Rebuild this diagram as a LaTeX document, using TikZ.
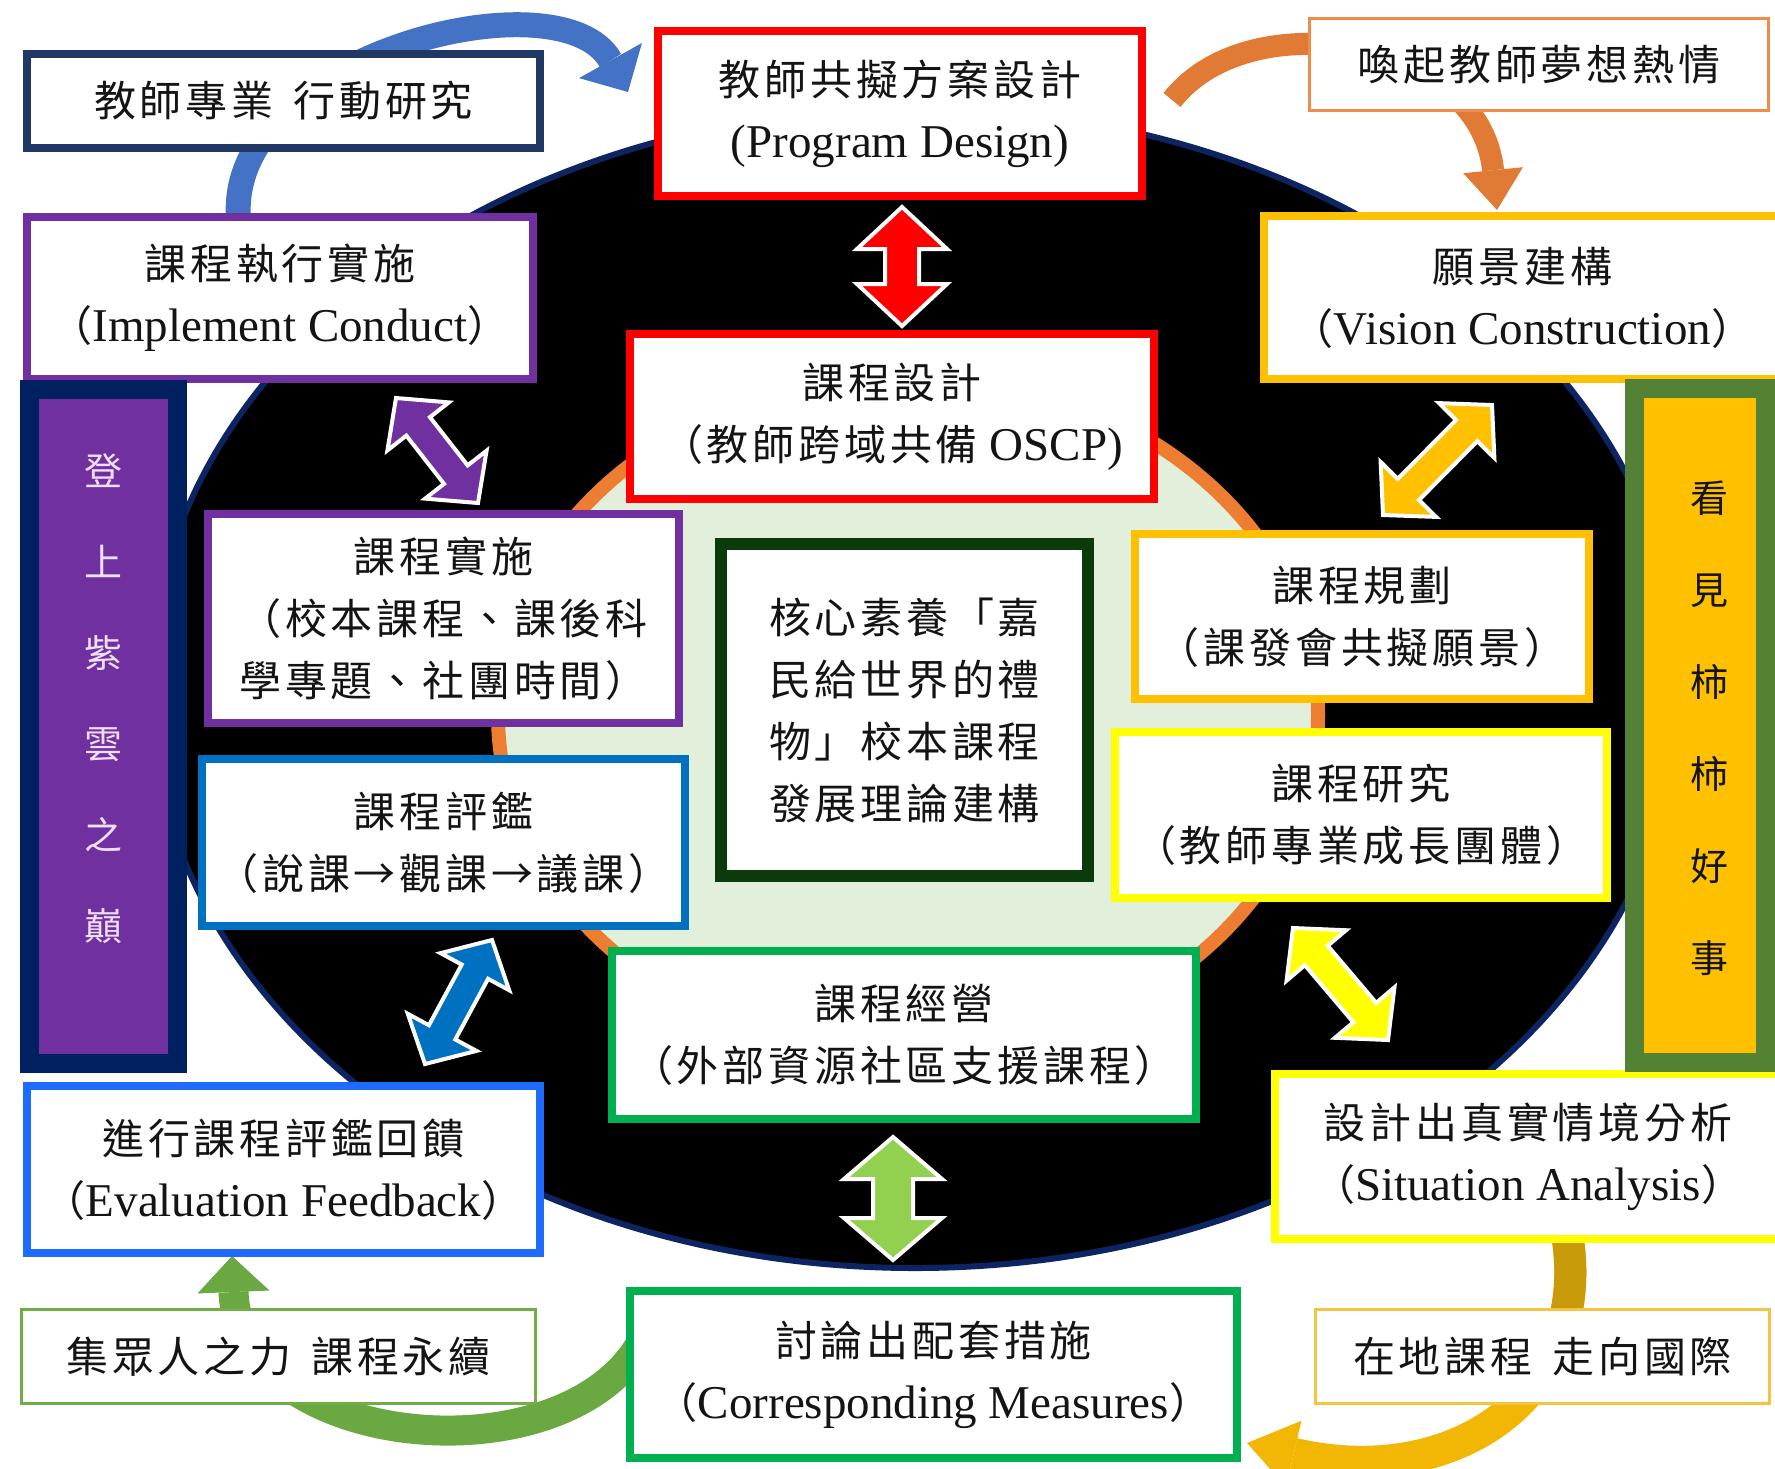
\documentclass[tikz,border=0pt]{standalone}
\usepackage{fontspec}
\setmainfont{Liberation Serif}
\newfontfamily\cjk{Noto Sans CJK TC}[LetterSpace=9]
\usetikzlibrary{calc,arrows.meta}
\pgfdeclarelayer{bg}
\pgfsetlayers{bg,main}

\definecolor{navyE}{HTML}{0D2463}
\definecolor{barNavy}{HTML}{002060}
\definecolor{tpaC}{HTML}{1F3864}
\definecolor{redC}{HTML}{FF0000}
\definecolor{purC}{HTML}{7030A0}
\definecolor{goldC}{HTML}{FFC000}
\definecolor{blueC}{HTML}{0070C0}
\definecolor{blueF}{HTML}{1F6BFF}
\definecolor{yelC}{HTML}{FFFF00}
\definecolor{grnC}{HTML}{00B050}
\definecolor{coreC}{HTML}{0B3A0B}
\definecolor{lgrnC}{HTML}{70AD47}
\definecolor{orgC}{HTML}{ED7D31}
\definecolor{paleC}{HTML}{E2EFDA}
\definecolor{lavC}{HTML}{EFDFF8}
\definecolor{rgrnC}{HTML}{548235}
\definecolor{arrGrn}{HTML}{92D050}
\definecolor{curBlue}{HTML}{4472C4}
\definecolor{curOrg}{HTML}{E07A35}
\definecolor{curGoldD}{HTML}{C99A0A}
\definecolor{curGoldL}{HTML}{F2B705}
\definecolor{curGrn}{HTML}{6AA842}
\definecolor{txtC}{HTML}{141414}
\definecolor{thinGold}{HTML}{F5C342}
\definecolor{thinOrg}{HTML}{F08C4A}

\newcommand\zh[1]{{\cjk\fontsize{21}{31}\selectfont #1}}
\newcommand\en{\fontsize{23.5}{31}\selectfont}

\newcommand\dblarr[6]{%
  \path (#1) coordinate (dA) (#2) coordinate (dB);
  \path ($(dA)!#6!(dB)$) coordinate (dA1) ($(dB)!#6!(dA)$) coordinate (dB1);
  \filldraw[fill=#3, draw=white, line width=2pt, line join=miter]
    (dA) -- ($(dA1)!#5!90:(dB)$) -- ($(dA1)!#4!90:(dB)$)
    -- ($(dB1)!#4!-90:(dA)$) -- ($(dB1)!#5!-90:(dA)$) -- (dB)
    -- ($(dB1)!#5!90:(dA)$) -- ($(dB1)!#4!90:(dA)$)
    -- ($(dA1)!#4!-90:(dB)$) -- ($(dA1)!#5!-90:(dB)$) -- cycle;}

\tikzset{
  box/.style={draw=#1, fill=white, line width=4pt, align=center, inner sep=0pt, text=txtC, font=\en},
  thinbox/.style={draw=#1, fill=white, line width=1.5pt, align=center, inner sep=0pt, text=txtC, font=\en},
}

\begin{document}
\begin{tikzpicture}[x=0.5pt,y=-0.5pt]
\useasboundingbox (0,0) rectangle (1775,1468);

% ---------- boxes ----------
\node[box=tpaC, minimum width=256.5pt, minimum height=47pt] (tpa) at (283.5,101) {\zh{教師專業\hspace{10pt}行動研究}};
\node[box=redC, minimum width=242pt, minimum height=82.5pt] (pd) at (900,113.5) {\zh{教師共擬方案設計}\\(Program Design)};
\node[thinbox=thinOrg, minimum width=229.5pt, minimum height=46pt] (arouse) at (1539,64.5) {\zh{喚起教師夢想熱情}};
\node[box=purC, minimum width=253pt, minimum height=81pt] (impl) at (280,298) {\zh{課程執行實施}\\\zh{（}Implement Conduct\zh{）}};
\node[box=goldC, minimum width=258.5pt, minimum height=81.5pt] (vision) at (1522.5,297.5) {\zh{願景建構}\\\zh{（}Vision Construction\zh{）}};
\node[box=redC, minimum width=262pt, minimum height=82.5pt] (cd) at (892,416.5) {\zh{課程設計}\\\zh{（教師跨域共備} OSCP)};
\node[box=purC, minimum width=235.5pt, minimum height=104.5pt] (ci) at (443.5,618.5) {\zh{課程實施}\\\zh{（校本課程、課後科}\\\zh{學專題、社團時間）}};
\node[box=coreC, line width=6pt, align=left, minimum width=183.5pt, minimum height=166pt] (core) at (904.5,710) {\zh{核心素養「嘉}\\\zh{民給世界的禮}\\\zh{物」校本課程}\\\zh{發展理論建構}};
\node[box=goldC, minimum width=227pt, minimum height=82.5pt] (cp) at (1362,616.5) {\zh{課程規劃}\\\zh{（課發會共擬願景）}};
\node[box=blueC, minimum width=241.5pt, minimum height=83.5pt] (ce) at (443.5,842.5) {\zh{課程評鑑}\\\zh{（說課→觀課→議課）}};
\node[box=yelC, minimum width=246pt, minimum height=83pt] (cr) at (1361,815) {\zh{課程研究}\\\zh{（教師專業成長團體）}};
\node[box=grnC, minimum width=292pt, minimum height=84pt] (cm) at (904,1035) {\zh{課程經營}\\\zh{（外部資源社區支援課程）}};
\node[box=blueF, minimum width=256.5pt, minimum height=83.5pt] (ef) at (283.5,1169.5) {\zh{進行課程評鑑回饋}\\\zh{（}Evaluation Feedback\zh{）}};
\node[box=yelC, minimum width=253pt, minimum height=82.5pt] (sa) at (1528,1156.5) {\zh{設計出真實情境分析}\\\zh{（}Situation Analysis\zh{）}};
\node[thinbox=lgrnC, minimum width=257pt, minimum height=47pt] (gather) at (278.5,1356.5) {\zh{集眾人之力\hspace{10pt}課程永續}};
\node[box=grnC, minimum width=303.5pt, minimum height=83.5pt] (cmeas) at (933.5,1374.5) {\zh{討論出配套措施}\\\zh{（}Corresponding Measures\zh{）}};
\node[thinbox=thinGold, minimum width=227pt, minimum height=47pt] (local) at (1542.5,1356.5) {\zh{在地課程\hspace{10pt}走向國際}};

% ---------- side bars ----------
\node[draw=barNavy, fill=purC, line width=9.5pt, minimum width=74pt, minimum height=337pt, inner sep=0pt] (lbar) at (103.5,726.5) {};
\node[text=lavC, align=center, inner sep=0pt, font=\cjk\fontsize{19}{45.5}\selectfont] (lbtext) at (103,699) {登\\上\\紫\\雲\\之\\巔};
\node[draw=rgrnC, fill=goldC, line width=9.5pt, minimum width=65.5pt, minimum height=337pt, inner sep=0pt] (rbar) at (1700,725.5) {};
\node[text=txtC, align=center, inner sep=0pt, font=\cjk\fontsize{19}{46}\selectfont] (rbtext) at (1709,728) {看\\見\\柿\\柿\\好\\事};

% ---------- background layer ----------
\begin{pgfonlayer}{bg}
\fill[white] (0,0) rectangle (1775,1468);
\draw[fill=black, draw=navyE, line width=3pt] (915,688) ellipse [x radius=765, y radius=580];
\draw[fill=paleC, draw=orgC, line width=7pt] (908,715) ellipse [x radius=410, y radius=340];
% curved arrows
\coordinate (bS) at (240,230); \coordinate (bE) at (628,92);
\draw[line width=12.5pt, curBlue, -{Triangle[width=36pt,length=18pt,line width=0pt]}] (bS) .. controls (210,60) and (560,-30) .. (bE);
\coordinate (oS) at (1172,100); \coordinate (oE) at (1497,210);
\draw[line width=11pt, curOrg, -{Triangle[width=30pt,length=20pt,line width=0pt]}] (oS) .. controls (1250,0) and (1480,40) .. (oE);
\coordinate (gS) at (1568,1240); \coordinate (gE) at (1247,1443);
\draw[line width=16pt, curGoldL, -{Triangle[width=34pt,length=24pt,line width=0pt]}] (gS) .. controls (1590,1400) and (1450,1490) .. (gE);
\begin{scope}
\clip (1450,1230) rectangle (1700,1320);
\draw[line width=16pt, curGoldD] (gS) .. controls (1590,1400) and (1450,1490) .. (gE);
\end{scope}
\coordinate (nS) at (640,1345); \coordinate (nE) at (232,1256);
\draw[line width=15pt, curGrn, -{Triangle[width=36pt,length=18pt,line width=0pt]}] (nS) .. controls (560,1480) and (240,1450) .. (nE);
\end{pgfonlayer}

% ---------- double arrows ----------
\coordinate (ra) at (902,207); \coordinate (rb) at (902,326);
\dblarr{ra}{rb}{redC}{8.5pt}{22.5pt}{21pt}
\coordinate (pa) at (396,398); \coordinate (pb) at (478,503);
\dblarr{pa}{pb}{purC}{7.5pt}{19.5pt}{18pt}
\coordinate (ya) at (1492,405); \coordinate (yb) at (1383,515);
\dblarr{ya}{yb}{goldC}{7.5pt}{19.5pt}{18pt}
\coordinate (ba) at (492,940); \coordinate (bb) at (425,1064);
\dblarr{ba}{bb}{blueC}{7.5pt}{19.5pt}{18pt}
\coordinate (wa) at (1293,928); \coordinate (wb) at (1388,1040);
\dblarr{wa}{wb}{yelC}{7.5pt}{19.5pt}{18pt}
\coordinate (ga) at (893,1137); \coordinate (gb) at (893,1260);
\dblarr{ga}{gb}{arrGrn}{10pt}{24.5pt}{21pt}
\end{tikzpicture}
\end{document}
